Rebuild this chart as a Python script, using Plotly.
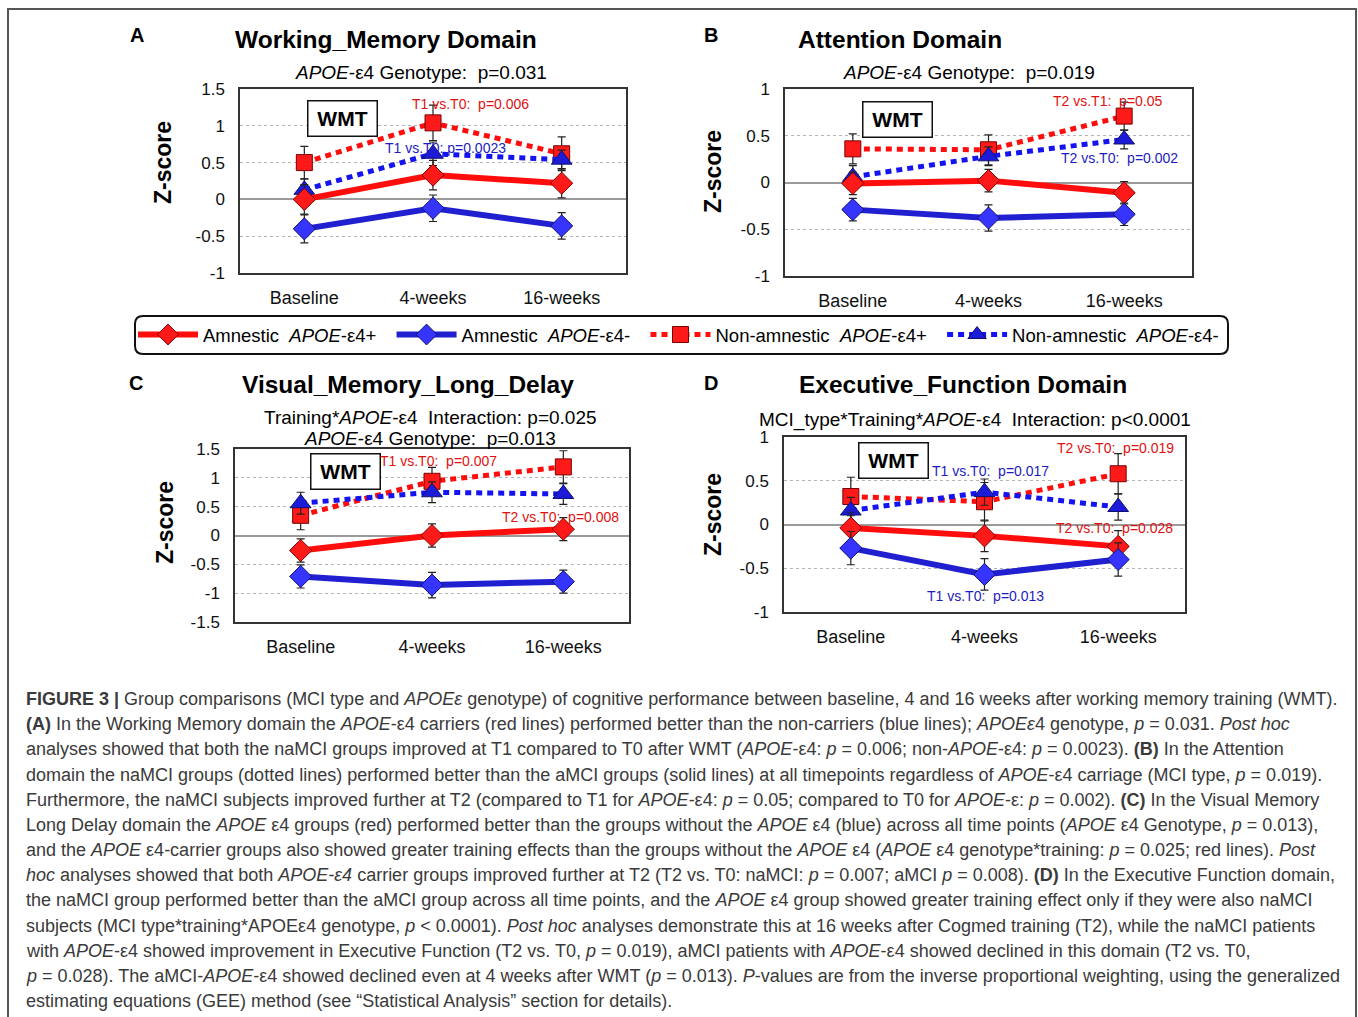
import plotly.graph_objects as go

W, H = 1358, 1017
FONT = "Arial, 'Liberation Sans', Helvetica, sans-serif"

# ---------------- data ----------------
categories = ["Baseline", "4-weeks", "16-weeks"]
series_names = [
    "Amnestic  <i>APOE</i>-ε4+\u00a0\u00a0",
    "Amnestic  <i>APOE</i>-ε4-\u00a0\u00a0",
    "Non-amnestic  <i>APOE</i>-ε4+\u00a0\u00a0",
    "Non-amnestic  <i>APOE</i>-ε4-\u00a0\u00a0",
]

# Panel A: Working memory
a_amn_pos = [0.00, 0.33, 0.22]
a_amn_pos_err = [0.20, 0.20, 0.20]
a_amn_neg = [-0.40, -0.12, -0.36]
a_amn_neg_err = [0.19, 0.18, 0.18]
a_non_pos = [0.50, 1.04, 0.62]
a_non_pos_err = [0.22, 0.24, 0.23]
a_non_neg = [0.13, 0.62, 0.54]
a_non_neg_err = [0.15, 0.16, 0.13]

# Panel B: Attention
b_amn_pos = [-0.01, 0.02, -0.11]
b_amn_pos_err = [0.12, 0.12, 0.12]
b_amn_neg = [-0.29, -0.38, -0.34]
b_amn_neg_err = [0.12, 0.14, 0.12]
b_non_pos = [0.36, 0.35, 0.71]
b_non_pos_err = [0.16, 0.16, 0.15]
b_non_neg = [0.06, 0.28, 0.46]
b_non_neg_err = [0.12, 0.10, 0.10]

# Panel C: Visual memory long delay
c_amn_pos = [-0.26, 0.00, 0.11]
c_amn_pos_err = [0.20, 0.20, 0.20]
c_amn_neg = [-0.71, -0.86, -0.80]
c_amn_neg_err = [0.20, 0.22, 0.20]
c_non_pos = [0.35, 0.94, 1.19]
c_non_pos_err = [0.25, 0.24, 0.28]
c_non_neg = [0.56, 0.75, 0.72]
c_non_neg_err = [0.19, 0.18, 0.18]

# Panel D: Executive function
d_amn_pos = [-0.04, -0.13, -0.25]
d_amn_pos_err = [0.18, 0.18, 0.18]
d_amn_neg = [-0.27, -0.57, -0.40]
d_amn_neg_err = [0.19, 0.18, 0.19]
d_non_pos = [0.32, 0.26, 0.58]
d_non_pos_err = [0.22, 0.22, 0.23]
d_non_neg = [0.16, 0.37, 0.20]
d_non_neg_err = [0.15, 0.15, 0.15]

a_ticks = [-1, -0.5, 0, 0.5, 1, 1.5]
a_ticktext = ["-1", "-0.5", "0", "0.5", "1", "1.5"]
b_ticks = [-1, -0.5, 0, 0.5, 1]
b_ticktext = ["-1", "-0.5", "0", "0.5", "1"]
c_ticks = [-1.5, -1, -0.5, 0, 0.5, 1, 1.5]
c_ticktext = ["-1.5", "-1", "-0.5", "0", "0.5", "1", "1.5"]
d_ticks = [-1, -0.5, 0, 0.5, 1]
d_ticktext = ["-1", "-0.5", "0", "0.5", "1"]


def px(x):
    return x / W


def py(y):
    return 1 - y / H


panels = [
    dict(series=[(a_amn_pos, a_amn_pos_err), (a_amn_neg, a_amn_neg_err),
                 (a_non_pos, a_non_pos_err), (a_non_neg, a_non_neg_err)],
         xdom=(240, 626), ydom=(89, 273), yr=(-1, 1.5), ticks=(a_ticks, a_ticktext)),
    dict(series=[(b_amn_pos, b_amn_pos_err), (b_amn_neg, b_amn_neg_err),
                 (b_non_pos, b_non_pos_err), (b_non_neg, b_non_neg_err)],
         xdom=(785, 1192), ydom=(89, 276), yr=(-1, 1), ticks=(b_ticks, b_ticktext)),
    dict(series=[(c_amn_pos, c_amn_pos_err), (c_amn_neg, c_amn_neg_err),
                 (c_non_pos, c_non_pos_err), (c_non_neg, c_non_neg_err)],
         xdom=(235, 629), ydom=(449, 622), yr=(-1.5, 1.5), ticks=(c_ticks, c_ticktext)),
    dict(series=[(d_amn_pos, d_amn_pos_err), (d_amn_neg, d_amn_neg_err),
                 (d_non_pos, d_non_pos_err), (d_non_neg, d_non_neg_err)],
         xdom=(784, 1185), ydom=(437, 612), yr=(-1, 1), ticks=(d_ticks, d_ticktext)),
]

RED = "#ff0d0d"
BLUE = "#2020d0"
styles = [
    dict(color=RED, dash="solid", width=6, symbol="diamond", size=17, mfill="#ff1a1a", mline="#7a0000"),
    dict(color=BLUE, dash="solid", width=6, symbol="diamond", size=17, mfill="#3535ff", mline="#10106a"),
    dict(color=RED, dash="6px,5px", width=5, symbol="square", size=16, mfill="#ff1a1a", mline="#7a0000"),
    dict(color="#1414f0", dash="6px,5px", width=5, symbol="triangle-up", size=18, mfill="#1c1cd8", mline="#10106a"),
]
draw_order = [2, 3, 0, 1]

fig = go.Figure()
layout = dict(
    width=W, height=H, margin=dict(l=0, r=0, t=0, b=0, pad=0, autoexpand=False),
    paper_bgcolor="white", plot_bgcolor="white",
    font=dict(family=FONT, color="black"),
    showlegend=True,
)

for i, p in enumerate(panels, start=1):
    xa = "x" if i == 1 else f"x{i}"
    ya = "y" if i == 1 else f"y{i}"
    for k in draw_order:
        vals, errs = p["series"][k]
        s = styles[k]
        fig.add_trace(go.Scatter(
            x=categories, y=vals, xaxis=xa, yaxis=ya,
            name=series_names[k], legendrank=k + 1,
            showlegend=(i == 1), mode="lines+markers",
            line=dict(color=s["color"], width=s["width"], dash=s["dash"]),
            marker=dict(symbol=s["symbol"], size=s["size"], color=s["mfill"],
                        line=dict(color=s["mline"], width=1)),
            error_y=dict(type="data", array=errs, color="#222222", thickness=1.2, width=4),
        ))
    xkey = "xaxis" if i == 1 else f"xaxis{i}"
    ykey = "yaxis" if i == 1 else f"yaxis{i}"
    layout[xkey] = dict(
        domain=[px(p["xdom"][0]), px(p["xdom"][1])], anchor=ya,
        type="category", range=[-0.5, 2.5], showgrid=False, zeroline=False,
        showline=True, mirror=True, linecolor="#333333", linewidth=1.5,
        ticks="", tickfont=dict(size=18, family=FONT, color="#111"),
        ticklabelstandoff=8,
    )
    layout[ykey] = dict(
        domain=[py(p["ydom"][1]), py(p["ydom"][0])], anchor=xa,
        range=list(p["yr"]), tickvals=p["ticks"][0], ticktext=p["ticks"][1],
        showgrid=True, gridcolor="#b5b5b5", griddash="dot", gridwidth=1,
        zeroline=True, zerolinecolor="#9a9a9a", zerolinewidth=1.5,
        showline=True, mirror=True, linecolor="#333333", linewidth=1.5,
        ticks="", tickfont=dict(size=17, family=FONT, color="#111"),
        ticklabelstandoff=10,
    )

annotations = []


def ann(text, x, y, size, color="black", bold=False, **kw):
    if bold:
        text = f"<b>{text}</b>"
    d = dict(text=text, x=px(x), y=py(y), xref="paper", yref="paper",
             showarrow=False, font=dict(size=size, color=color, family=FONT),
             xanchor="center", yanchor="middle")
    d.update(kw)
    annotations.append(d)


# panel letters and titles
ann("A", 137, 35, 20, bold=True)
ann("B", 711, 35, 20, bold=True)
ann("C", 136, 383, 20, bold=True)
ann("D", 711, 383, 20, bold=True)
ann("Working_Memory Domain", 386, 40, 24.5, bold=True)
ann("Attention Domain", 900, 40, 24.5, bold=True)
ann("Visual_Memory_Long_Delay", 408, 385, 24.5, bold=True)
ann("Executive_Function Domain", 963, 384, 24.5, bold=True)

# subtitles
ann("<i>APOE</i>-ε4 Genotype:  p=0.031", 421, 73, 19)
ann("<i>APOE</i>-ε4 Genotype:  p=0.019", 969, 73, 19)
ann("Training*<i>APOE</i>-ε4  Interaction: p=0.025", 430, 417, 19)
ann("<i>APOE</i>-ε4 Genotype:  p=0.013", 430, 438, 19)
ann("MCI_type*Training*<i>APOE</i>-ε4  Interaction: p&lt;0.0001", 975, 420, 19)

# y axis titles
for (x, y) in [(163, 163), (713, 172), (165, 523), (713, 515)]:
    ann("Z-score", x, y, 23, bold=True, textangle=-90)

# WMT boxes
for (x, y) in [(342, 118), (897, 119), (345, 471), (893, 460)]:
    ann("WMT", x, y, 21, bold=True, bordercolor="#111", borderwidth=1.5,
        borderpad=3, width=62, height=28, bgcolor="white")

# p-value notes
DRED = "#e01010"
DBLUE = "#1c1cc0"
ann("T1 vs.T0:  p=0.006", 470, 104, 14, color=DRED)
ann("T1 vs.T0: p=0.0023", 445, 148, 14, color=DBLUE)
ann("T2 vs.T1:  p=0.05", 1108, 101, 14, color=DRED)
ann("T2 vs.T0:  p=0.002", 1119, 158, 14, color=DBLUE)
ann("T1 vs.T0:  p=0.007", 438, 461, 14, color=DRED)
ann("T2 vs.T0:  p=0.008", 560, 517, 14, color=DRED)
ann("T2 vs.T0:  p=0.019", 1115, 448, 14, color=DRED)
ann("T1 vs.T0:  p=0.017", 990, 471, 14, color=DBLUE)
ann("T2 vs.T0:  p=0.028", 1114, 528, 14, color=DRED)
ann("T1 vs.T0:  p=0.013", 985, 596, 14, color=DBLUE)

# caption
caption_lines = [
    "<b>FIGURE 3 |</b> Group comparisons (MCI type and <i>APOEε</i> genotype) of cognitive performance between baseline, 4 and 16 weeks after working memory training (WMT).",
    "<b>(A)</b> In the Working Memory domain the <i>APOE</i>-ε4 carriers (red lines) performed better than the non-carriers (blue lines); <i>APOEε</i>4 genotype, <i>p</i> = 0.031. <i>Post hoc</i>",
    "analyses showed that both the naMCI groups improved at T1 compared to T0 after WMT (<i>APOE</i>-ε4: <i>p</i> = 0.006; non-<i>APOE</i>-ε4: <i>p</i> = 0.0023). <b>(B)</b> In the Attention",
    "domain the naMCI groups (dotted lines) performed better than the aMCI groups (solid lines) at all timepoints regardless of <i>APOE</i>-ε4 carriage (MCI type, <i>p</i> = 0.019).",
    "Furthermore, the naMCI subjects improved further at T2 (compared to T1 for <i>APOE</i>-ε4: <i>p</i> = 0.05; compared to T0 for <i>APOE</i>-ε: <i>p</i> = 0.002). <b>(C)</b> In the Visual Memory",
    "Long Delay domain the <i>APOE</i> ε4 groups (red) performed better than the groups without the <i>APOE</i> ε4 (blue) across all time points (<i>APOE</i> ε4 Genotype, <i>p</i> = 0.013),",
    "and the <i>APOE</i> ε4-carrier groups also showed greater training effects than the groups without the <i>APOE</i> ε4 (<i>APOE</i> ε4 genotype*training: <i>p</i> = 0.025; red lines). <i>Post</i>",
    "<i>hoc</i> analyses showed that both <i>APOE-ε4</i> carrier groups improved further at T2 (T2 vs. T0: naMCI: <i>p</i> = 0.007; aMCI <i>p</i> = 0.008). <b>(D)</b> In the Executive Function domain,",
    "the naMCI group performed better than the aMCI group across all time points, and the <i>APOE</i> ε4 group showed greater training effect only if they were also naMCI",
    "subjects (MCI type*training*APOEε4 genotype, <i>p</i> &lt; 0.0001). <i>Post hoc</i> analyses demonstrate this at 16 weeks after Cogmed training (T2), while the naMCI patients",
    "with <i>APOE</i>-ε4 showed improvement in Executive Function (T2 vs. T0, <i>p</i> = 0.019), aMCI patients with <i>APOE</i>-ε4 showed declined in this domain (T2 vs. T0,",
    "<i>p</i> = 0.028). The aMCI-<i>APOE</i>-ε4 showed declined even at 4 weeks after WMT (<i>p</i> = 0.013). <i>P</i>-values are from the inverse proportional weighting, using the generalized",
    "estimating equations (GEE) method (see “Statistical Analysis” section for details).",
]
for j, line in enumerate(caption_lines):
    ann(line, 24, 699 + j * 25.17, 18, color="#3a3a3a", xanchor="left", align="left")

layout["annotations"] = annotations


def rounded_rect(x0, y0, x1, y1, r):
    X = lambda v: px(v)
    Y = lambda v: py(v)
    return (f"M {X(x0 + r)} {Y(y0)} L {X(x1 - r)} {Y(y0)} "
            f"Q {X(x1)} {Y(y0)} {X(x1)} {Y(y0 + r)} L {X(x1)} {Y(y1 - r)} "
            f"Q {X(x1)} {Y(y1)} {X(x1 - r)} {Y(y1)} L {X(x0 + r)} {Y(y1)} "
            f"Q {X(x0)} {Y(y1)} {X(x0)} {Y(y1 - r)} L {X(x0)} {Y(y0 + r)} "
            f"Q {X(x0)} {Y(y0)} {X(x0 + r)} {Y(y0)} Z")


layout["shapes"] = [
    dict(type="path", xref="paper", yref="paper",
         path=f"M {px(8)} {py(1020)} L {px(8)} {py(9)} L {px(1356)} {py(9)} L {px(1356)} {py(1020)}",
         line=dict(color="#555555", width=2)),
    dict(type="path", xref="paper", yref="paper",
         path=rounded_rect(135, 316, 1228, 354, 8),
         line=dict(color="#111111", width=2)),
]

layout["legend"] = dict(
    orientation="h", x=px(684), xanchor="center", y=py(335), yanchor="middle",
    bgcolor="rgba(0,0,0,0)", borderwidth=0,
    font=dict(size=18.5, family=FONT, color="black"),
    traceorder="normal", itemwidth=60,
)

fig.update_layout(**layout)
fig.write_html("out.html", config={"displayModeBar": False},
               post_script="document.body.style.margin='0';document.body.style.overflow='hidden';")
